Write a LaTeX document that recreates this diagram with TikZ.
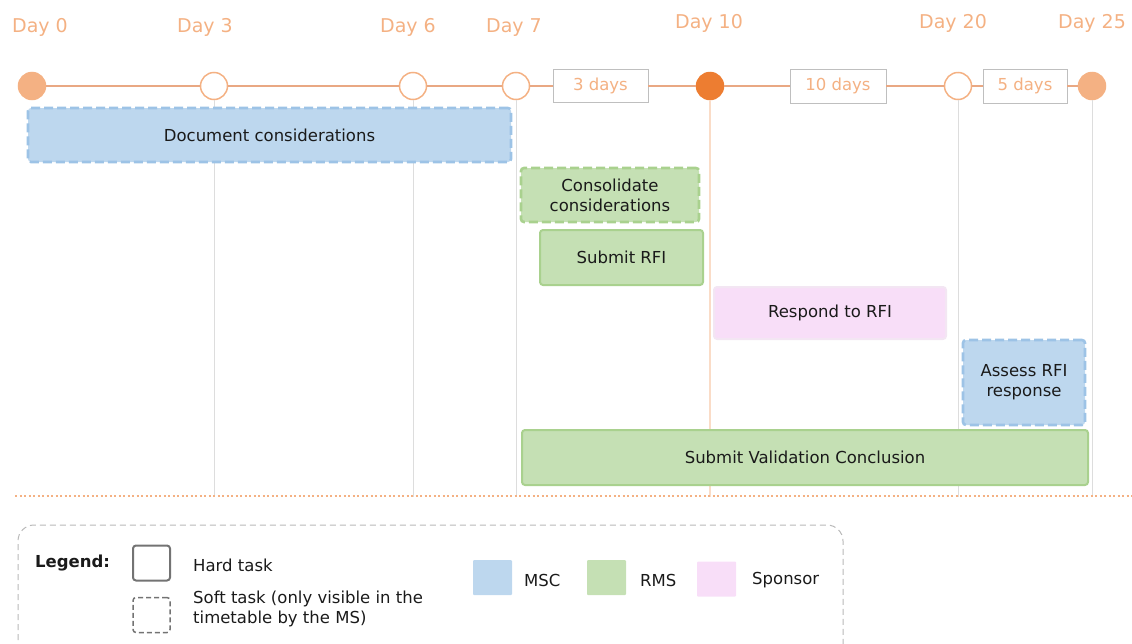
\documentclass[tikz,border=0pt]{standalone}
\usepackage{fontspec}
\setmainfont{DejaVu Sans}
\definecolor{orL}{HTML}{F4B183}
\definecolor{orD}{HTML}{ED7D31}
\definecolor{orLine}{HTML}{E9A883}
\definecolor{blueF}{HTML}{BDD7EE}
\definecolor{blueB}{HTML}{9DC3E6}
\definecolor{greenF}{HTML}{C5E0B4}
\definecolor{greenB}{HTML}{A9D18E}
\definecolor{pinkF}{HTML}{F8DEF8}
\definecolor{pinkB}{HTML}{F3E6F3}
\definecolor{vline}{HTML}{DDDDDD}
\definecolor{txt}{HTML}{1A1A1A}
\tikzset{
  daylbl/.style={text=orL, font=\fontsize{19}{21}\selectfont, anchor=base, inner sep=0pt},
  milestone/.style={circle, draw=orL, line width=1.5pt, fill=white, minimum size=27pt, inner sep=0pt},
  milefull/.style={milestone, fill=orL},
  miledark/.style={milestone, fill=orD, draw=orD},
  durbox/.style={draw=black!25, line width=0.8pt, fill=white, text=orL, font=\fontsize{16.5}{19}\selectfont, inner sep=0pt},
  task/.style={rounded corners=3pt, line width=2pt, text=txt, font=\fontsize{16.5}{20}\selectfont, align=center, inner sep=0pt},
  msc/.style={task, fill=blueF, draw=blueB},
  rms/.style={task, fill=greenF, draw=greenB},
  spon/.style={task, fill=pinkF, draw=pinkB},
  soft/.style={line width=2.6pt, dash pattern=on 9pt off 4pt},
  tline/.style={draw=orLine, line width=2pt},
  vl/.style={draw=vline, line width=0.9pt},
  lgtext/.style={text=txt, font=\fontsize{16.5}{20}\selectfont, anchor=west, inner sep=0pt, align=left},
  swatch/.style={minimum width=39pt, minimum height=35pt, inner sep=0pt, rounded corners=1pt}
}
\begin{document}
\begin{tikzpicture}[x=1pt, y=-1pt]
\useasboundingbox (0,0) rectangle (1132,643);
% timeline circles
\node[milefull] (d0) at (32,86) {};
\node[milestone] (d3) at (214,86) {};
\node[milestone] (d6) at (413,86) {};
\node[milestone] (d7) at (516,86) {};
\node[miledark] (d10) at (710,86) {};
\node[milestone] (d20) at (958,86) {};
\node[milefull] (d25) at (1092,86) {};
% duration boxes
\node[durbox, minimum width=95pt, minimum height=33pt] (dur3) at (600.5,86) {3 days};
\node[durbox, minimum width=96pt, minimum height=34pt] (dur10) at (838,86) {10 days};
\node[durbox, minimum width=84pt, minimum height=34pt] (dur5) at (1025,86) {5 days};
% bottom coordinates
\coordinate (b3) at (214,497);
\coordinate (b6) at (413,497);
\coordinate (b7) at (516,497);
\coordinate (b10) at (710,497);
\coordinate (b20) at (958,497);
\coordinate (b25) at (1092,497);
\coordinate (dl) at (15,496);
\coordinate (dr) at (1132,496);
% vertical lines
\draw[vl] (d3.south) -- (b3);
\draw[vl] (d6.south) -- (b6);
\draw[vl] (d7.south) -- (b7);
\draw[vl] (d20.south) -- (b20);
\draw[vl] (d25.south) -- (b25);
\draw[draw=orL!45, line width=2.2pt] (d10.south) -- (b10);
\draw[draw=orL, line width=1.6pt, dash pattern=on 2pt off 2.5pt] (dl) -- (dr);
% timeline
\draw[tline] (d0) -- (d3);
\draw[tline] (d3) -- (d6);
\draw[tline] (d6) -- (d7);
\draw[tline] (d7) -- (dur3);
\draw[tline] (dur3) -- (d10);
\draw[tline] (d10) -- (dur10);
\draw[tline] (dur10) -- (d20);
\draw[tline] (d20) -- (dur5);
\draw[tline] (dur5) -- (d25);
% day labels
\node[daylbl] (l0) at (40,32) {Day 0};
\node[daylbl] (l3) at (205,32) {Day 3};
\node[daylbl] (l6) at (408,32) {Day 6};
\node[daylbl] (l7) at (514,32) {Day 7};
\node[daylbl] (l10) at (709,28) {Day 10};
\node[daylbl] (l20) at (953,28) {Day 20};
\node[daylbl] (l25) at (1092,28) {Day 25};
% tasks
\node[msc, soft, minimum width=483pt, minimum height=54pt] (t1) at (269.5,135) {Document considerations};
\node[rms, soft, minimum width=178pt, minimum height=54pt] (t2) at (610,195) {Consolidate\\considerations};
\node[rms, minimum width=163pt, minimum height=55pt] (t3) at (621.5,257.5) {Submit RFI};
\node[spon, minimum width=232pt, minimum height=52pt] (t4) at (830,313) {Respond to RFI};
\node[msc, soft, minimum width=122pt, minimum height=85pt] (t5) at (1024,382.5) {Assess RFI\\response};
\node[rms, minimum width=566pt, minimum height=55pt] (t6) at (805,457.5) {Submit Validation Conclusion};
% legend
\draw[draw=black!28, line width=1pt, dash pattern=on 6pt off 4pt, rounded corners=16pt] (18,650) -- (18,525) -- (843,525) -- (843,650);
\node[lgtext, font=\fontsize{16.5}{20}\selectfont\bfseries] (lg) at (35,563) {Legend:};
\node[draw=black!55, line width=2pt, rounded corners=3pt, minimum width=37pt, minimum height=35pt, inner sep=0pt] (hard) at (151.5,563) {};
\node[lgtext] (hardt) at (193,565) {Hard task};
\node[draw=black!55, line width=1.5pt, dash pattern=on 5pt off 3pt, rounded corners=3pt, minimum width=37pt, minimum height=35pt, inner sep=0pt] (softb) at (151.5,615) {};
\node[lgtext] (softt) at (193,609) {Soft task (only visible in the\\timetable by the MS)};
\node[swatch, fill=blueF] (sw1) at (492.5,577.5) {};
\node[lgtext] (sw1t) at (524,580) {MSC};
\node[swatch, fill=greenF] (sw2) at (606.5,577.5) {};
\node[lgtext] (sw2t) at (640,580) {RMS};
\node[swatch, fill=pinkF] (sw3) at (716.5,579) {};
\node[lgtext] (sw3t) at (752,580) {Sponsor};
\end{tikzpicture}
\end{document}
